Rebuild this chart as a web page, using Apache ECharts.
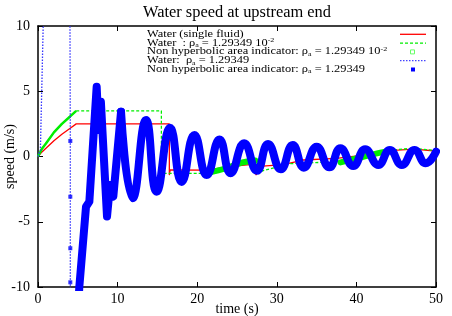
<!DOCTYPE html>
<html>
<head>
<meta charset="utf-8">
<script src="https://cdn.jsdelivr.net/npm/echarts@6/dist/echarts.min.js"></script>
<style>
  html, body { margin: 0; padding: 0; background: #fff; }
  #container { width: 452px; height: 316px; }
</style>
</head>
<body>
<div id="container"></div>
<script type="text/javascript">
// x / y axis ticks
var xTicks = [0, 10, 20, 30, 40, 50];
var yTicks = [-10, -5, 0, 5, 10];

// Water (single fluid) - red
var redT = [0, 0.5, 1, 2, 3, 4, 4.8, 16.5, 16.5, 16.6, 21.3, 23.7, 26.6, 27.1, 27.4, 27.8, 30.8, 33.3, 37.5, 40.9, 44.2, 47.2, 50];
var redV = [0, 0.35, 0.63, 1.2, 1.7, 2.15, 2.5, 2.5, -1.42, -1.03, -1.05, -0.8, -0.62, -0.6, -1.42, -0.75, -0.62, -0.27, -0.15, 0.1, 0.45, 0.57, 0.42];

// Water rho_a = 1.29349e-2 - green dashed
var greenT = [0, 0.5, 1, 2, 3, 4, 4.8, 15.5, 15.5, 21.2, 23.6, 25.4, 26.6, 27.3, 27.6, 28.2, 31.7, 36.7, 39.2, 42, 44.5, 47.1, 50];
var greenV = [0, 0.6, 1.0, 1.85, 2.5, 3.05, 3.5, 3.5, -1.29, -1.29, -0.9, -0.5, -0.35, -0.3, -1.25, -1.1, -0.55, -0.42, -0.27, 0.15, 0.5, 0.63, 0.45];

// non hyperbolic area indicator (rho_a = 1.29349e-2) - dense green squares
var gIndStartT = [0, 0.5, 1, 2, 3, 4, 4.8];
var gIndStartV = [0, 0.6, 1.0, 1.85, 2.5, 3.05, 3.5];
var gIndT = [21.2, 23.6, 25.4, 26.6, 27.3, null, 38, 40, 42, 43.5];
var gIndV = [-1.29, -0.9, -0.5, -0.35, -0.3, null, -0.45, -0.15, 0.15, 0.35];

// Water rho_a = 1.29349 - blue dotted (goes off scale early on)
var blueT = [0, 0.3, 0.8, 4.0, 4.06, 4.06, 4.06, 4.06, 4.1, 5.0, 5.19];
var blueV = [0, 0.5, 14, 14, 1.19, -3.08, -7.03, -9.64, -14, -14, -10];

// non hyperbolic area indicator (rho_a = 1.29349) - blue squares
var bSqT = [4.06, 4.06, 4.06, 4.06];
var bSqV = [1.19, -3.08, -7.03, -9.64];
var bEarlyT = [5.0, 5.19, 6.03, 6.45, 7.37, 7.62, 7.9, 8.67, 9.05, 9.46, 10.43];
var bEarlyV = [-12, -10, -3.85, -3.46, 5.35, 2.03, 4.2, -4.6, -2.18, -3.08, 3.43];
var bLateT = [10.43, 11.9, 13.57, 14.9, 16.6, 18.05, 19.65, 21.2, 22.8, 24.2, 25.9, 27.5, 28.9, 30.5, 32.0, 33.4, 35.0, 36.6, 38.0, 39.6, 41.1, 42.75, 44.2, 45.7, 47.3, 48.7, 50];
var bLateV = [3.43, -3.2, 2.8, -2.7, 2.2, -1.95, 1.65, -1.42, 1.31, -1.29, 1.01, -1.09, 0.96, -0.98, 0.88, -0.86, 0.75, -0.83, 0.63, -0.73, 0.55, -0.65, 0.5, -0.65, 0.5, -0.52, 0.37];

var legendLabels = [
    'Water (single fluid)',
    'Water  : ρ{sub|a} = 1.29349 10{sup|-2}',
    'Non hyperbolic area indicator: ρ{sub|a} = 1.29349 10{sup|-2}',
    'Water:  ρ{sub|a} = 1.29349',
    'Non hyperbolic area indicator: ρ{sub|a} = 1.29349'
];

function pairs(t, v) {
    var out = [];
    for (var i = 0; i < t.length; i++) {
        out.push(t[i] === null ? [null, null] : [t[i], v[i]]);
    }
    return out;
}

var serif = 'Liberation Serif';
var dom = document.getElementById('container');
var myChart = echarts.init(dom, null, { renderer: 'canvas' });

var rowY = [34.3, 43.1, 51.9, 60.7, 69.5];
var rich = {
    sub: { fontSize: 8, fontFamily: serif, verticalAlign: 'bottom', lineHeight: 14 },
    sup: { fontSize: 8, fontFamily: serif, verticalAlign: 'top', lineHeight: 14 }
};
var legendGraphics = [];
for (var i = 0; i < legendLabels.length; i++) {
    legendGraphics.push({
        type: 'text', x: 147, y: rowY[i], scaleY: 0.75, z: 100,
        style: {
            text: legendLabels[i], fill: '#000', fontFamily: serif, fontSize: 12.4,
            verticalAlign: 'middle', align: 'left', lineHeight: 14, rich: rich
        }
    });
}
legendGraphics.push(
    { type: 'line', z: 100, shape: { x1: 400, y1: rowY[0], x2: 426, y2: rowY[0] }, style: { stroke: '#ff0000', lineWidth: 1.3 } },
    { type: 'line', z: 100, shape: { x1: 400, y1: rowY[1], x2: 426, y2: rowY[1] }, style: { stroke: '#00ee00', lineWidth: 1.3, lineDash: [3, 2] } },
    { type: 'rect', z: 100, shape: { x: 410.5, y: rowY[2] - 2, width: 4, height: 4 }, style: { fill: 'none', stroke: '#66ff66', lineWidth: 1 } },
    { type: 'line', z: 100, shape: { x1: 400, y1: rowY[3], x2: 426, y2: rowY[3] }, style: { stroke: '#4444ff', lineWidth: 1.3, lineDash: [1.5, 1.5] } },
    { type: 'rect', z: 100, shape: { x: 411, y: rowY[4] - 2, width: 4, height: 4 }, style: { fill: '#0000ff' } }
);

var axisFont = { fontFamily: serif, fontSize: 14, color: '#000' };
function mkX(pos, labels) {
    return {
        type: 'value', position: pos, min: 0, max: 50, interval: 10,
        axisLine: { show: true, onZero: false, lineStyle: { color: '#000', width: 1.5 } },
        axisTick: { show: true, inside: true, length: 5, lineStyle: { color: '#000', width: 1 } },
        axisLabel: Object.assign({ show: labels, margin: 5 }, axisFont),
        splitLine: { show: false },
        name: labels ? 'time (s)' : '', nameLocation: 'middle', nameGap: 15, nameMoveOverlap: false,
        nameTextStyle: axisFont
    };
}
function mkY(pos, labels) {
    return {
        type: 'value', position: pos, min: -10, max: 10, interval: 5,
        axisLine: { show: true, onZero: false, lineStyle: { color: '#000', width: 1.5 } },
        axisTick: { show: true, inside: true, length: 5, lineStyle: { color: '#000', width: 1 } },
        axisLabel: Object.assign({ show: labels, margin: 8 }, axisFont),
        splitLine: { show: false },
        name: labels ? 'speed (m/s)' : '', nameLocation: 'middle', nameGap: 21, nameMoveOverlap: false,
        nameTextStyle: axisFont
    };
}

var option = {
    animation: false,
    backgroundColor: '#fff',
    title: {
        text: 'Water speed at upstream end', left: 143, top: 5, padding: 0,
        textStyle: { fontFamily: serif, fontSize: 16.4, fontWeight: 'normal', color: '#000' }
    },
    grid: { left: 38, right: 16, top: 26, bottom: 29, containLabel: false, outerBoundsMode: 'none' },
    xAxis: [mkX('bottom', true), mkX('top', false)],
    yAxis: [mkY('left', true), mkY('right', false)],
    graphic: legendGraphics,
    series: [
        {
            name: 'Water (single fluid)', type: 'line', data: pairs(redT, redV),
            symbol: 'none', lineStyle: { color: '#ff0000', width: 1.3 }, z: 2
        },
        {
            name: 'Water rho 1e-2', type: 'line', data: pairs(greenT, greenV),
            symbol: 'none', lineStyle: { color: '#00ee00', width: 1.3, type: [3, 2] }, z: 3
        },
        {
            name: 'indicator 1e-2 a', type: 'line', data: pairs(gIndStartT, gIndStartV),
            symbol: 'none', lineStyle: { color: '#00ee00', width: 2.5 }, z: 4
        },
        {
            name: 'indicator 1e-2 b', type: 'line', data: pairs(gIndT, gIndV), connectNulls: false,
            symbol: 'none', smooth: 0.3, lineStyle: { color: '#00ee00', width: 6, cap: 'round' }, z: 4
        },
        {
            name: 'Water rho', type: 'line', data: pairs(blueT, blueV),
            symbol: 'none', lineStyle: { color: '#3333ff', width: 1.3, type: [1.5, 1.5] }, z: 5
        },
        {
            name: 'indicator rho pts', type: 'scatter', data: pairs(bSqT, bSqV),
            symbol: 'rect', symbolSize: 4, itemStyle: { color: '#0000ff' }, z: 6
        },
        {
            name: 'indicator rho early', type: 'line', data: pairs(bEarlyT, bEarlyV),
            symbol: 'none', lineStyle: { color: '#0000ff', width: 8, join: 'round', cap: 'round' }, z: 6
        },
        {
            name: 'indicator rho late', type: 'line', data: pairs(bLateT, bLateV), smooth: 0.5,
            symbol: 'none', lineStyle: { color: '#0000ff', width: 8, join: 'round', cap: 'round' }, z: 6
        }
    ]
};
myChart.setOption(option);
</script>
</body>
</html>
